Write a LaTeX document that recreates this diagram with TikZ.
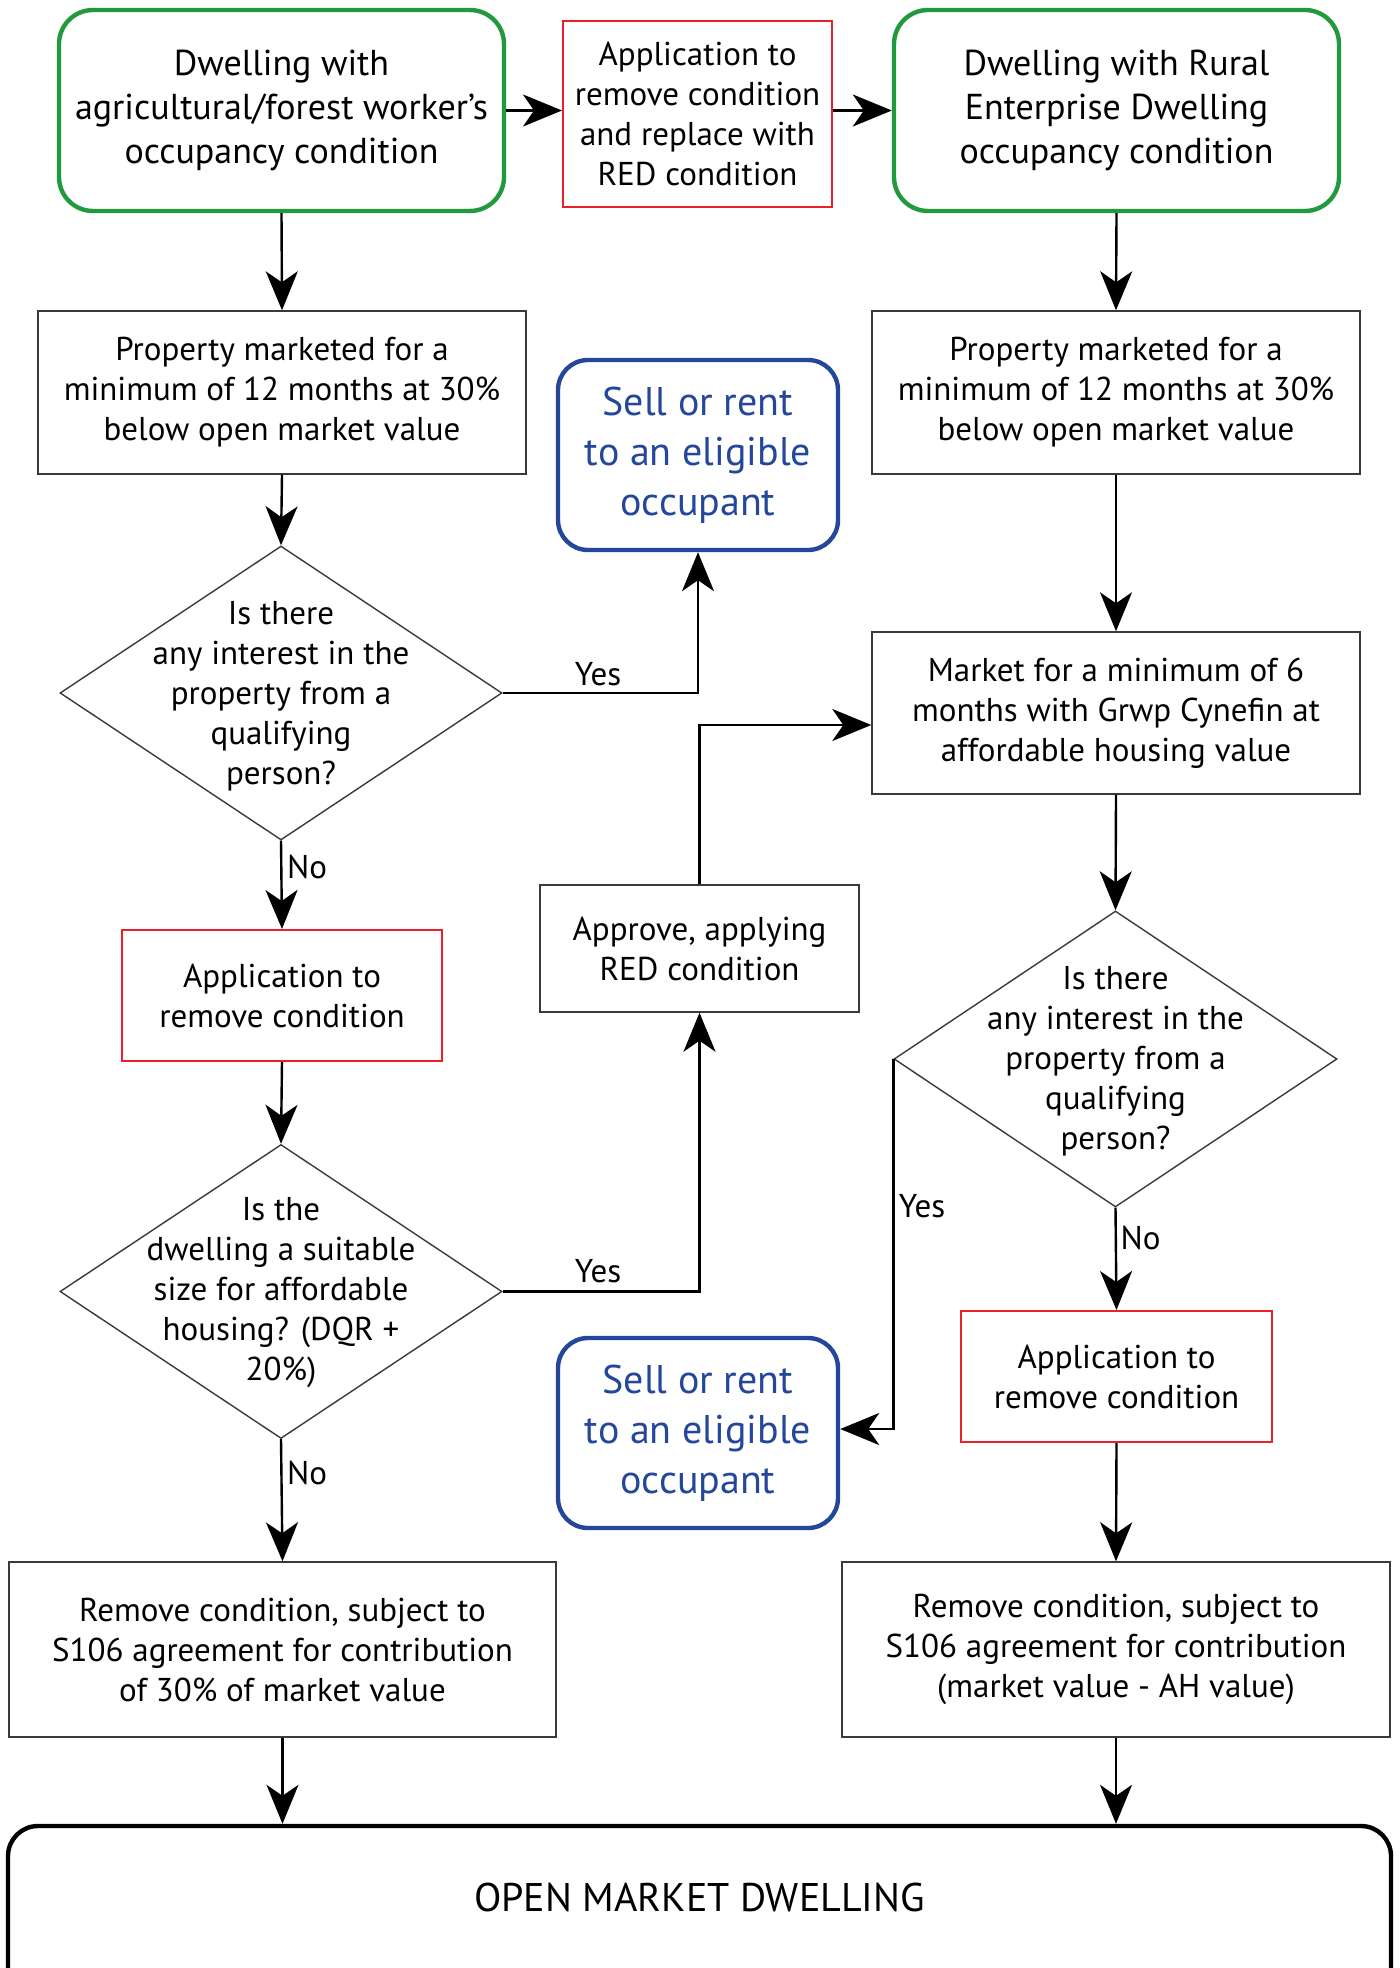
\documentclass[tikz,border=0pt]{standalone}
\usepackage{fontspec}
\setmainfont{PT Sans}
\usetikzlibrary{shapes.geometric,arrows.meta}
\definecolor{grn}{HTML}{23993D}
\definecolor{redb}{HTML}{E8212B}
\definecolor{blu}{HTML}{24479C}
\definecolor{bord}{HTML}{3A3A3A}
\begin{document}
\begin{tikzpicture}[x=0.5pt,y=-0.5pt,
  txt/.style={align=center,font=\fontsize{16.5}{20}\selectfont},
  box/.style={txt,draw=bord,line width=0.7pt,rectangle,inner sep=0pt},
  redbox/.style={box,draw=redb,line width=1pt},
  greenbox/.style={txt,draw=grn,line width=2.2pt,rectangle,rounded corners=17pt,inner sep=0pt,
     minimum width=222.5pt,minimum height=100.5pt,font=\fontsize{18}{22}\selectfont},
  bluebox/.style={draw=blu,line width=2.2pt,rectangle,rounded corners=15pt,inner sep=0pt,
     minimum width=140pt,minimum height=95pt,align=center,text=blu,font=\fontsize{20}{25}\selectfont},
  dia/.style={draw=bord,line width=0.7pt,diamond,inner sep=0pt,minimum width=221pt,minimum height=147pt},
  lab/.style={font=\fontsize{16.5}{20}\selectfont,inner sep=0pt},
  arr/.style={-{Stealth[length=19.5pt,width=16pt,inset=5.5pt]},line width=1.2pt}
]
\useasboundingbox (0,0) rectangle (1399,1968);
\clip (0,0) rectangle (1399,1968);

\node[greenbox] (tl) at (281.5,110.5) {Dwelling with\\agricultural/forest worker's\\occupancy condition};
\node[redbox,minimum width=134.5pt,minimum height=93pt] (tm) at (697.5,114) {Application to\\remove condition\\and replace with\\RED condition};
\node[greenbox] (tr) at (1116.5,110.5) {Dwelling with Rural\\Enterprise Dwelling\\occupancy condition};

\node[box,minimum width=244pt,minimum height=81.5pt] (lb2) at (282,392.5) {Property marketed for a\\minimum of 12 months at 30\%\\below open market value};
\node[bluebox] (bl1) at (698,455) {Sell or rent\\to an eligible\\occupant};
\node[box,minimum width=244pt,minimum height=81.5pt] (rb2) at (1116,392.5) {Property marketed for a\\minimum of 12 months at 30\%\\below open market value};

\node[dia] (d1) at (281,693) {};
\node[txt] (d1t) at (281,696) {Is there\\any interest in the\\property from a\\qualifying\\person?};

\node[box,minimum width=244pt,minimum height=81pt] (rb3) at (1116,713) {Market for a minimum of 6\\months with Grwp Cynefin at\\affordable housing value};

\node[box,minimum width=159.5pt,minimum height=63.5pt] (ap) at (699.5,948.5) {Approve, applying\\RED condition};
\node[redbox,minimum width=160pt,minimum height=65.5pt] (lred) at (282,995.5) {Application to\\remove condition};

\node[dia,minimum width=221.5pt,minimum height=148pt] (rd) at (1115.5,1059) {};
\node[txt] (rdt) at (1115.5,1061) {Is there\\any interest in the\\property from a\\qualifying\\person?};

\node[dia] (d2) at (281,1291.5) {};
\node[txt] (d2t) at (281,1293) {Is the\\dwelling a suitable\\size for affordable\\housing? (DQR +\\20\%)};

\node[bluebox] (bl2) at (698,1433) {Sell or rent\\to an eligible\\occupant};
\node[redbox,minimum width=155.5pt,minimum height=65.5pt] (rred) at (1116.5,1376.5) {Application to\\remove condition};

\node[box,minimum width=273.5pt,minimum height=87.5pt] (lbb) at (282.5,1649.5) {Remove condition, subject to\\S106 agreement for contribution\\of 30\% of market value};
\node[box,minimum width=274pt,minimum height=87.5pt] (rbb) at (1116,1649.5) {Remove condition, subject to\\S106 agreement for contribution\\(market value - AH value)};

\node[draw=black,line width=2.2pt,rectangle,rounded corners=15pt,minimum width=691.5pt,minimum height=97pt,inner sep=0pt] (fin) at (699.5,1923) {};
\node[txt,font=\fontsize{20}{24}\selectfont] (fint) at (699.5,1897) {OPEN MARKET DWELLING};

% connectors
\draw[arr] (tl.east) -- (tl.east -| tm.west);
\draw[arr] (tm.east |- tl.east) -- (tr.west);
\draw[arr] (tl.south) -- (lb2.north);
\draw[arr] (tr.south) -- (rb2.north);
\draw[arr] (lb2.south) -- (d1.north);
\draw[arr] (rb2.south) -- (rb3.north);
\draw[arr] (d1.east) -| (bl1.south);
\node[lab] (y1) at (598,674) {Yes};
\draw[arr] (d1.south) -- (lred.north);
\node[lab] (n1) at (307,867) {No};
\draw[arr] (lred.south) -- (d2.north);
\draw[arr] (d2.east) -| (ap.south);
\node[lab] (y2) at (598,1271) {Yes};
\draw[arr] (ap.north) |- ([yshift=-6pt]rb3.west);
\draw[arr] (rb3.south) -- (rd.north);
\draw[arr] (rd.west) |- ([yshift=2pt]bl2.east);
\node[lab] (y3) at (922,1206) {Yes};
\draw[arr] (rd.south) -- (rred.north);
\node[lab] (n3) at (1140.5,1238) {No};
\draw[arr] (d2.south) -- (lbb.north);
\node[lab] (n2) at (307,1473) {No};
\draw[arr] (rred.south) -- (rbb.north);
\draw[arr] (lbb.south) -- (lbb.south |- fin.north);
\draw[arr] (rbb.south) -- (rbb.south |- fin.north);
\end{tikzpicture}
\end{document}
